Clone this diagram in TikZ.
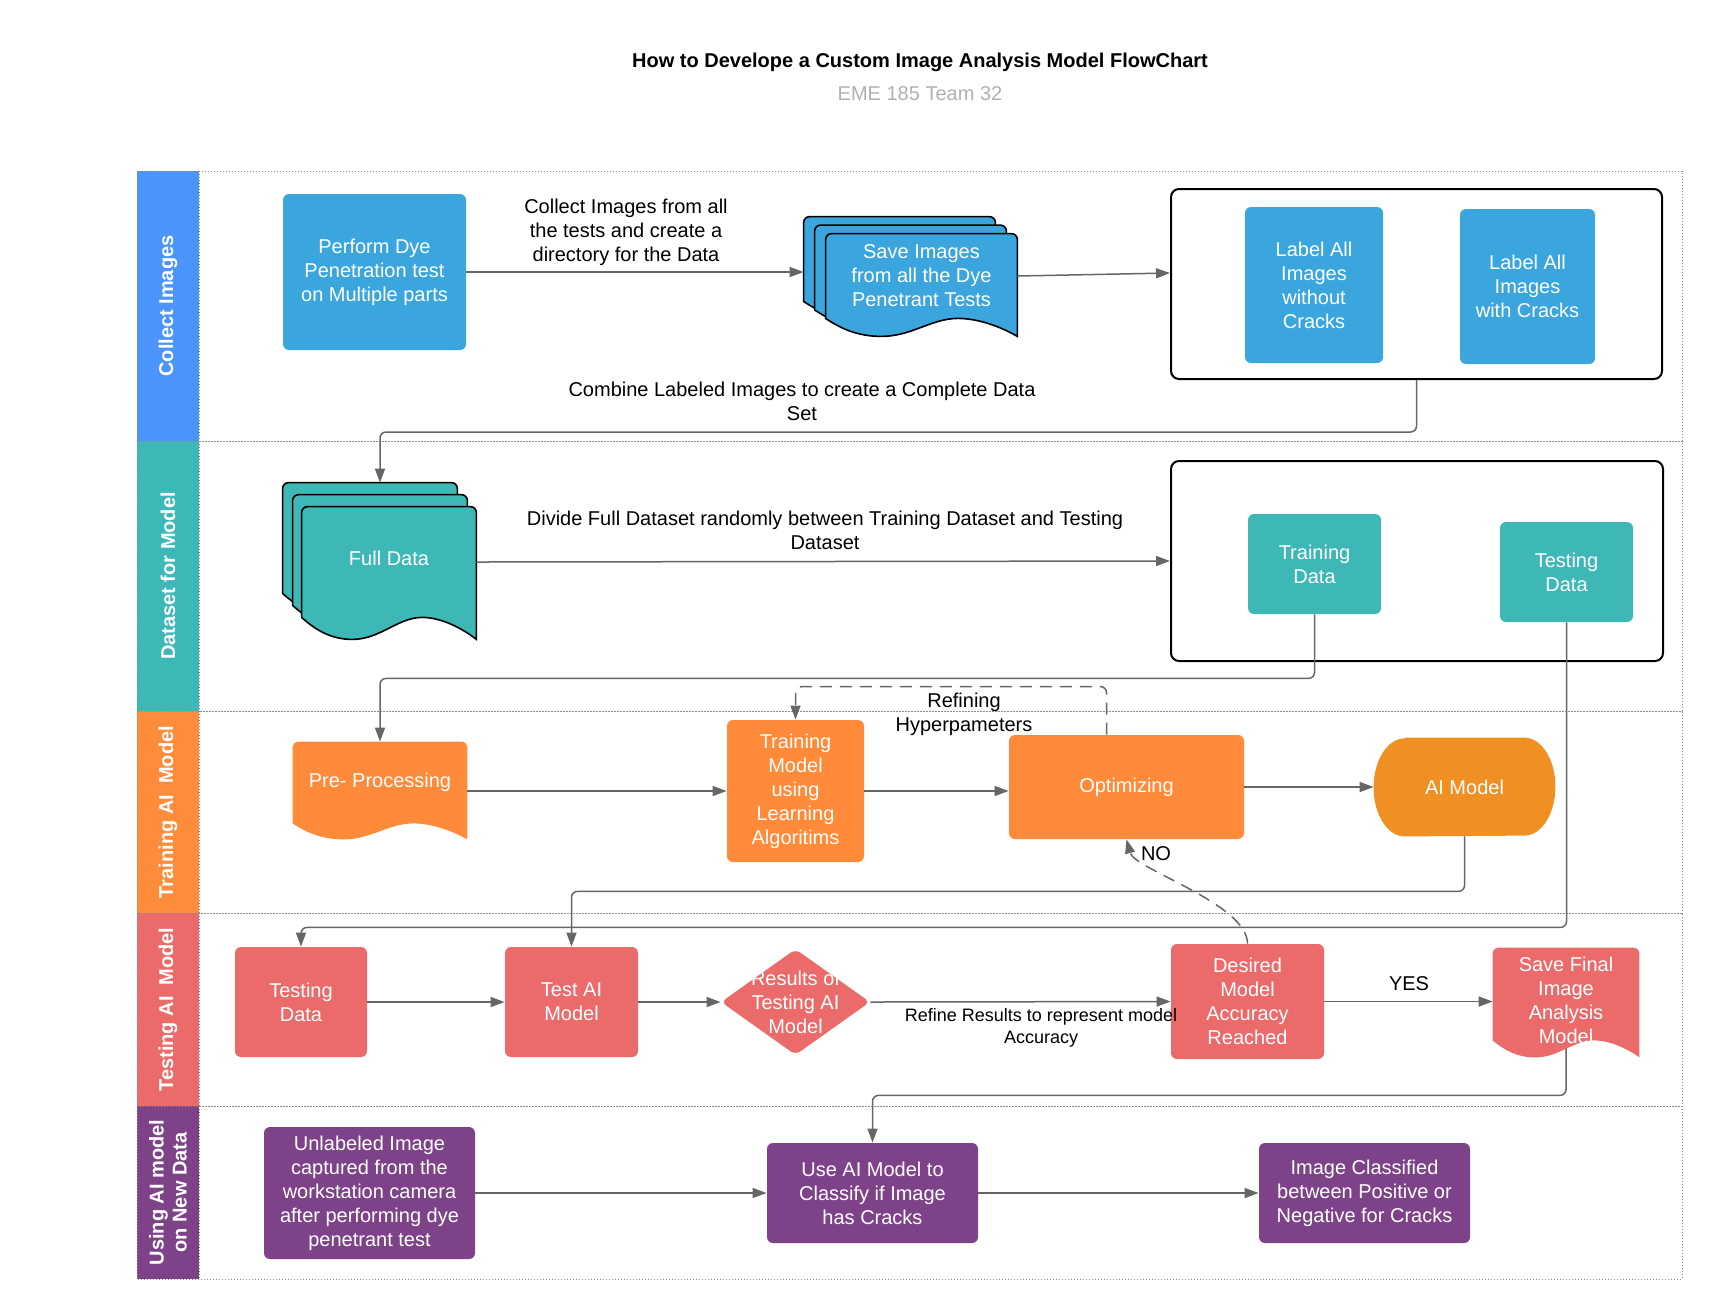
\documentclass[tikz,border=0pt]{standalone}
\usepackage{fontspec}
\setmainfont{Liberation Sans}
\usepackage{tikz}
\usetikzlibrary{calc,positioning,arrows.meta,shapes.geometric}
\usepackage{xcolor}
\definecolor{laneblue}{RGB}{74,148,250}
\definecolor{laneteal}{RGB}{62,184,182}
\definecolor{laneorange}{RGB}{255,140,58}
\definecolor{lanered}{RGB}{235,107,107}
\definecolor{lanepurple}{RGB}{126,66,136}
\definecolor{boxblue}{RGB}{59,165,221}
\definecolor{boxorange}{RGB}{255,138,57}
\definecolor{aiorange}{RGB}{240,144,34}
\definecolor{conngray}{RGB}{102,102,102}
\definecolor{framegray}{RGB}{140,140,140}
\definecolor{subgray}{RGB}{176,176,176}

\pgfdeclarelayer{background}
\pgfsetlayers{background,main}

% wavy document shape behind a named node: node, fill, extra options, wave depth, half depth
\newcommand{\docshape}[5]{%
  \begin{pgfonlayer}{background}
  \path[fill=#2,#3] (#1.south west) [rounded corners=3pt] -- (#1.north west) -- (#1.north east) [sharp corners]
    -- ($(#1.south east)+(0,#4)$)
    .. controls ($(#1.south west)!0.92!(#1.south east)+(0,#5)$) and ($(#1.south west)!0.80!(#1.south east)$) .. ($(#1.south west)!0.69!(#1.south east)$)
    .. controls ($(#1.south west)!0.55!(#1.south east)$) and ($(#1.south west)!0.45!(#1.south east)+(0,#4)$) .. ($(#1.south west)!0.29!(#1.south east)+(0,#4)$)
    .. controls ($(#1.south west)!0.16!(#1.south east)+(0,#4)$) and ($(#1.south west)!0.07!(#1.south east)+(0,#5)$) .. cycle;
  \end{pgfonlayer}}

\begin{document}
\begin{tikzpicture}[x=0.5pt, y=-0.5pt,
  boxsize/.style 2 args={minimum width=#1*0.5pt, minimum height=#2*0.5pt},
  box/.style={rectangle, rounded corners=3pt, inner sep=0pt, text=white, align=center,
    font=\fontsize{10}{12}\selectfont},
  docnode/.style={rectangle, inner sep=0pt, text=white, align=center, font=\fontsize{10}{12}\selectfont},
  grpbox/.style={draw=black, line width=1pt, rounded corners=4pt, inner sep=0pt},
  lanefr/.style={draw=framegray, line width=0.5pt, dash pattern=on 0.6pt off 0.9pt},
  lanetext/.style={rotate=90, text=white, align=center, font=\bfseries\fontsize{10}{11.5}\selectfont},
  lbl/.style={align=center, text=black, font=\fontsize{10}{12}\selectfont, inner sep=1pt},
  conn/.style={draw=conngray, line width=0.75pt, rounded corners=3pt, -{Triangle[length=7pt,width=5pt]}},
  dashline/.style={dash pattern=on 6pt off 4pt}]

  \useasboundingbox (0,0) rectangle (1718,1314);

  % Title
  \node[font=\bfseries\fontsize{10}{12}\selectfont] (title) at (920,62) {How to Develope a Custom Image Analysis Model FlowChart};
  \node[font=\fontsize{10}{12}\selectfont, text=subgray] (subtitle) at (920,94) {EME 185 Team 32};

  % Lanes
  \foreach \ytop/\ybot/\col/\lab [count=\i] in {171/441/laneblue/{Collect Images},
      441/711/laneteal/{Dataset for Model}, 711/913/laneorange/{Training AI\ \ Model},
      913/1106/lanered/{Testing AI\ \ Model}, 1106/1279/lanepurple/{Using AI model\\on New Data}} {
    \fill[\col] (137,\ytop) rectangle (199,\ybot);
    \draw[lanefr] (137,\ytop) rectangle (1682,\ybot);
    \draw[lanefr] (199,\ytop) -- (199,\ybot);
    \node[lanetext] (lane\i) at (168,{(\ytop+\ybot)/2}) {\lab};
  }

  % Group boxes
  \node[grpbox, boxsize={491}{190}] (grp1) at (1416.5,284) {};
  \node[grpbox, boxsize={492}{200}] (grp2) at (1417,561) {};

  % Collect Images
  \node[box, fill=boxblue, boxsize={183}{156}] (perform) at (374.5,272) {Perform Dye\\Penetration test\\on Multiple parts};
  \node[docnode, boxsize={191}{84}] (save3) at (899.5,259) {};
  \node[docnode, boxsize={191}{84}] (save2) at (910.5,267.5) {};
  \node[docnode, boxsize={191}{84}] (save) at (921.5,276) {Save Images\\from all the Dye\\Penetrant Tests};
  \docshape{save3}{boxblue}{draw=black, line width=0.8pt}{18}{9}
  \docshape{save2}{boxblue}{draw=black, line width=0.8pt}{18}{9}
  \docshape{save}{boxblue}{draw=black, line width=0.8pt}{18}{9}
  \node[box, fill=boxblue, boxsize={138}{156}] (nocrack) at (1314,285) {Label All\\Images\\without\\Cracks};
  \node[box, fill=boxblue, boxsize={135}{155}] (crack) at (1527.5,286.5) {Label All\\Images\\with Cracks};

  % Dataset for Model
  \node[docnode, boxsize={174}{110}] (full3) at (370,538) {};
  \node[docnode, boxsize={174}{110}] (full2) at (380,550) {};
  \node[docnode, boxsize={174}{110},
    label={[docnode, yshift=2pt]center:Full Data}] (full) at (389,562) {};
  \docshape{full3}{laneteal}{draw=black, line width=0.8pt}{22}{11}
  \docshape{full2}{laneteal}{draw=black, line width=0.8pt}{22}{11}
  \docshape{full}{laneteal}{draw=black, line width=0.8pt}{22}{11}
  \node[box, fill=laneteal, boxsize={133}{100}] (train) at (1314.5,564) {Training\\Data};
  \node[box, fill=laneteal, boxsize={133}{100}] (testt) at (1566.5,572) {Testing\\Data};

  % Training AI Model
  \node[docnode, boxsize={174}{81}] (pre) at (380,782.5) {Pre- Processing};
  \docshape{pre}{boxorange}{}{16}{8}
  \node[box, fill=boxorange, boxsize={137}{142}] (tm) at (795.5,791) {Training\\Model\\using\\Learning\\Algoritims};
  \node[box, fill=boxorange, boxsize={235}{104}] (opt) at (1126.5,787) {Optimizing};
  \node[docnode, boxsize={181}{98}] (aim) at (1464.5,787) {AI Model};
  \begin{pgfonlayer}{background}
    \fill[aiorange] ([xshift=15.5pt]aim.north west) -- ([xshift=-15.5pt]aim.north east)
      arc[start angle=90, end angle=-90, x radius=15.5pt, y radius=24.5pt]
      -- ([xshift=15.5pt]aim.south west)
      arc[start angle=270, end angle=90, x radius=15.5pt, y radius=24.5pt] -- cycle;
  \end{pgfonlayer}

  % Testing AI Model
  \node[box, fill=lanered, boxsize={132}{110}] (tdat) at (301,1002) {Testing\\Data};
  \node[box, fill=lanered, boxsize={133}{110}] (testai) at (571.5,1002) {Test AI\\Model};
  \node[diamond, aspect=1.4, rounded corners=3pt, fill=lanered, inner sep=0pt, boxsize={149}{106},
    label={[box]center:Results of\\Testing AI\\Model}] (res) at (795.5,1002) {};
  \node[box, fill=lanered, boxsize={153}{115}] (des) at (1247.5,1001.5) {Desired\\Model\\Accuracy\\Reached};
  \node[docnode, boxsize={146}{92},
    label={[docnode, yshift=-3pt]center:Save Final\\Image\\Analysis\\Model}] (savef) at (1566,994) {};
  \docshape{savef}{lanered}{}{17}{8.5}

  % Using AI model on New Data
  \node[box, fill=lanepurple, boxsize={211}{132}] (unl) at (369.5,1193) {Unlabeled Image\\captured from the\\workstation camera\\after performing dye\\penetrant test};
  \node[box, fill=lanepurple, boxsize={211}{100}] (useai) at (872.5,1193) {Use AI Model to\\Classify if Image\\has Cracks};
  \node[box, fill=lanepurple, boxsize={211}{100}] (cls) at (1364.5,1193) {Image Classified\\between Positive or\\Negative for Cracks};

  % Connectors
  \draw[conn] (perform.east) -- (perform.east -| save3.west);
  \draw[conn] (save.east) -- ([yshift=5.5pt]grp1.west);
  \draw[conn] (grp1.south) -- ++(0,52) -| (full2.north |- full3.north);
  \draw[conn] (full.east) -- (grp2.west);
  \draw[conn] (train.south) -- ++(0,64) -| (pre.north);
  \draw[conn] (testt.south) -- ++(0,305) -| (tdat.north);
  \draw[conn] (pre.east |- tm.west) -- (tm.west);
  \draw[conn] (tm.east) -- (tm.east -| opt.west);
  \draw[conn] (opt.east) -- (aim.west);
  \draw[conn, dashline] ([xshift=-10pt]opt.north) -- ++(0,-48) -| (tm.north);
  \draw[conn, dashline] (des.north) .. controls +(0,-40) and +(8,30) .. (opt.south);
  \draw[conn] (aim.south) -- ++(0,55) -| (testai.north);
  \draw[conn] (tdat.east) -- (testai.west);
  \draw[conn] (testai.east) -- (res.west);
  \draw[conn] (res.east) -- (des.west);
  \draw[conn] (des.east) -- (des.east -| savef.west);
  \draw[conn] ([yshift=-4pt]savef.south) -- ++(0,47) -| (useai.north);
  \draw[conn] (unl.east) -- (unl.east -| useai.west);
  \draw[conn] (useai.east) -- (cls.west);

  % Connector labels
  \node[lbl] (lblcollect) at (626,232) {Collect Images from all\\the tests and create a\\directory for the Data};
  \node[lbl] (lblcombine) at (802,401) {Combine Labeled Images to create a Complete Data\\Set};
  \node[lbl] (lbldivide) at (825,530) {Divide Full Dataset randomly between Training Dataset and Testing\\Dataset};
  \node[lbl] (lblrefining) at (964,714) {Refining\\Hyperpameters};
  \node[lbl, font=\fontsize{9}{11}\selectfont] (lblrefine) at (1041,1028) {Refine Results to represent model\\Accuracy};
  \node[lbl] (lblno) at (1156,854) {NO};
  \node[lbl] (lblyes) at (1409,984) {YES};
\end{tikzpicture}
\end{document}
